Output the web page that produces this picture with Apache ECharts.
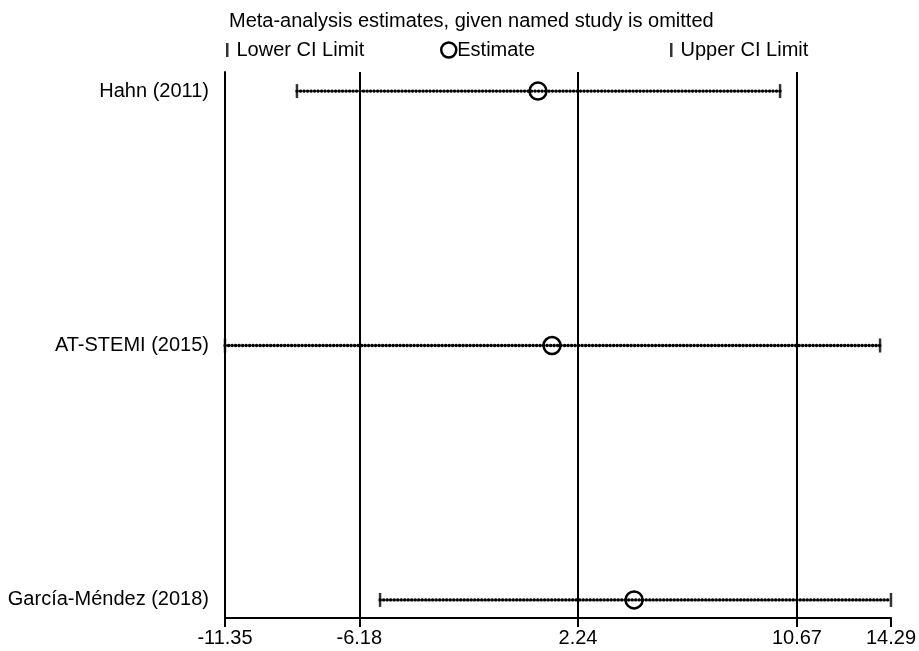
<!DOCTYPE html>
<html>
<head>
<meta charset="utf-8">
<script src="https://cdn.jsdelivr.net/npm/echarts@6/dist/echarts.min.js"></script>
<style>html,body{margin:0;padding:0;background:#fff}#c{width:919px;height:651px}</style>
</head>
<body>
<div id="c"></div>
<script>
const studies = ['Hahn (2011)', 'AT-STEMI (2015)', 'García-Méndez (2018)'];
const lowerCI = [-8.58, -11.35, -5.38];
const estimate = [0.70, 1.24, 4.40];
const upperCI = [10.02, 13.87, 14.29];
const xTicks = [-11.35, -6.18, 2.24, 10.67, 14.29];
const refLines = [-6.18, 2.24, 10.67];
const titleText = 'Meta-analysis estimates, given named study is omitted';

const FONT = "'Liberation Sans', Arial, Helvetica, sans-serif";
const FS = 20;
const n = studies.length;
const rowOf = i => n - i;

const segData = studies.map((s, i) => [lowerCI[i], upperCI[i], rowOf(i)]);
const lowData = studies.map((s, i) => [lowerCI[i], rowOf(i)]);
const estData = studies.map((s, i) => [estimate[i], rowOf(i)]);
const upData = studies.map((s, i) => [upperCI[i], rowOf(i)]);

const chart = echarts.init(document.getElementById('c'), null, {renderer: 'canvas'});
const legendText = {color: '#000', fontSize: FS, fontFamily: FONT};
chart.setOption({
  animation: false,
  backgroundColor: '#fff',
  title: {
    text: titleText, left: 229, top: 11, padding: 0,
    textStyle: {fontWeight: 'normal', fontSize: FS, color: '#000', fontFamily: FONT}
  },
  legend: [
    {data: ['Lower CI Limit'], left: 226, top: 40, padding: 0, icon: 'rect', itemWidth: 2.5, itemHeight: 14,
     itemStyle: {color: '#000', borderWidth: 0}, textStyle: Object.assign({padding: [0, 0, 0, 3]}, legendText)},
    {data: ['Estimate'], left: 440, top: 40, padding: 0, icon: 'circle', itemWidth: 15, itemHeight: 15,
     itemStyle: {color: 'rgba(0,0,0,0)', borderColor: '#000', borderWidth: 2.5}, textStyle: Object.assign({padding: [0, 0, 0, -4]}, legendText)},
    {data: ['Upper CI Limit'], left: 670, top: 40, padding: 0, icon: 'rect', itemWidth: 2.5, itemHeight: 14,
     itemStyle: {color: '#000', borderWidth: 0}, textStyle: Object.assign({padding: [0, 0, 0, 3]}, legendText)}
  ],
  grid: {left: 225, right: 28, top: 72, bottom: 33, containLabel: false},
  xAxis: {
    type: 'value', min: xTicks[0], max: xTicks[xTicks.length - 1],
    axisLine: {show: true, onZero: false, lineStyle: {color: '#000', width: 2}},
    axisTick: {show: true, customValues: xTicks, length: 9, lineStyle: {color: '#000', width: 2}},
    axisLabel: {customValues: xTicks, formatter: v => v.toFixed(2), color: '#000', fontSize: FS, fontFamily: FONT, margin: 10},
    splitLine: {show: false}
  },
  yAxis: {
    type: 'value', min: 0.929, max: 3.075,
    axisLine: {show: true, onZero: false, lineStyle: {color: '#000', width: 2}},
    axisTick: {show: false},
    axisLabel: {customValues: studies.map((s, i) => rowOf(i)), formatter: v => studies[n - Math.round(v)],
      color: '#000', fontSize: FS, fontFamily: FONT, margin: 16},
    splitLine: {show: false}
  },
  series: [
    {
      type: 'custom', name: 'CI', silent: true, z: 2,
      data: segData,
      renderItem: function (params, api) {
        const a = api.coord([api.value(0), api.value(2)]);
        const b = api.coord([api.value(1), api.value(2)]);
        return {
          type: 'line',
          shape: {x1: a[0], y1: a[1], x2: b[0], y2: b[1]},
          style: {stroke: '#000', lineWidth: 3.3, lineDash: [0.3, 3.2], lineCap: 'round', fill: null}
        };
      },
      markLine: {
        silent: true, symbol: 'none', label: {show: false},
        lineStyle: {color: '#000', width: 2, type: 'solid'},
        data: refLines.map(v => ({xAxis: v}))
      }
    },
    {
      type: 'scatter', name: 'Lower CI Limit', symbol: 'rect', symbolSize: [2.5, 14], z: 3,
      itemStyle: {color: '#000'}, data: lowData
    },
    {
      type: 'scatter', name: 'Estimate', symbol: 'circle', symbolSize: 17, z: 4,
      itemStyle: {color: 'rgba(0,0,0,0)', borderColor: '#000', borderWidth: 2.5, opacity: 1}, data: estData
    },
    {
      type: 'scatter', name: 'Upper CI Limit', symbol: 'rect', symbolSize: [2.5, 14], z: 3,
      itemStyle: {color: '#000'}, data: upData
    }
  ]
});
</script>
</body>
</html>
